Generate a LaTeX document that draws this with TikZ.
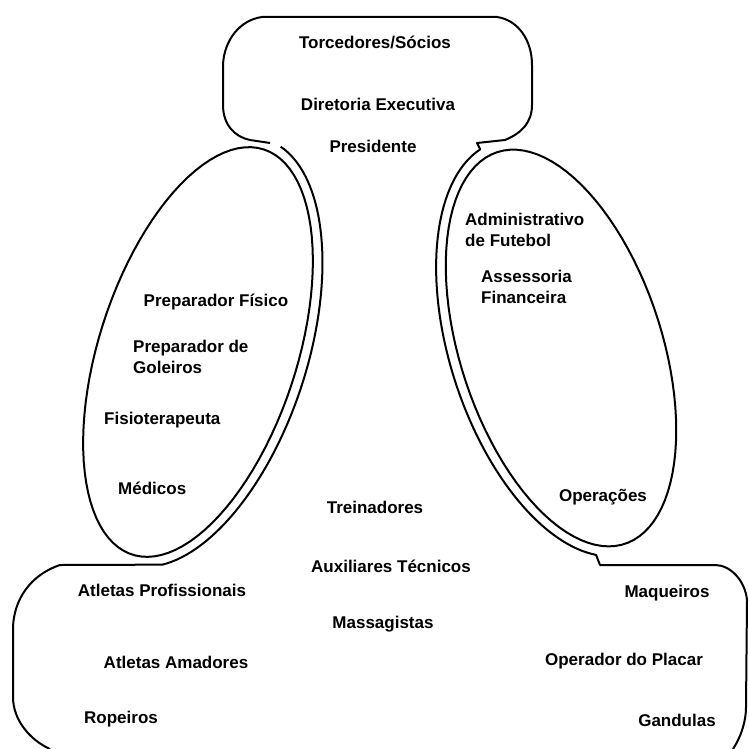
\documentclass[tikz,border=0pt]{standalone}
\usepackage{fontspec}
\setmainfont{Liberation Sans}
\usepackage{tikz}
\usetikzlibrary{positioning, calc}

\begin{document}
\begin{tikzpicture}[x=1pt, y=-1pt,
    outline/.style={draw=black, line width=2pt, line join=round},
    lbl/.style={font=\bfseries\fontsize{17}{21.5}\selectfont, inner sep=0pt},
    lbll/.style={lbl, anchor=west, align=left}]

    \useasboundingbox (0,0) rectangle (748,749);

    % top block and bottom block, joined by the outer lines of the two ellipses
    \draw[outline] plot[domain=8:163, samples=70, variable=\t]
        ({198 + 223*cos(\t)*0.309 + 109*sin(\t)*0.951}, {352 - 223*cos(\t)*0.951 + 109*sin(\t)*0.309})
        -- (60,565) .. controls (30,575) and (14,600) .. (13,627) -- (13,697)
        .. controls (13,720) and (30,740) .. (50,749);
    \draw[outline] (733,749) .. controls (742,735) and (746,720) .. (746,707) -- (747,600)
        .. controls (745,580) and (730,565) .. (715,565) -- (600,565)
        -- plot[domain=164:8, samples=70, variable=\t]
        ({561 - 216*cos(\t)*0.309 - 111*sin(\t)*0.951}, {348 - 216*cos(\t)*0.951 + 111*sin(\t)*0.309})
        -- (477,143) -- (505,140) .. controls (522,133) and (532,122) .. (532,105) -- (532,65)
        .. controls (532,40) and (518,20) .. (497,17) -- (262,17)
        .. controls (240,20) and (224,40) .. (223,65) -- (223,105)
        .. controls (223,125) and (235,137) .. (250,140) -- (270,143);

    % the two ellipses
    \draw[outline] plot[domain=0:360, samples=100, variable=\t]
        ({198 + 213*cos(\t)*0.309 + 99*sin(\t)*0.951}, {352 - 213*cos(\t)*0.951 + 99*sin(\t)*0.309}) -- cycle;
    \draw[outline] plot[domain=0:360, samples=100, variable=\t]
        ({561 - 206*cos(\t)*0.309 - 101*sin(\t)*0.951}, {348 - 206*cos(\t)*0.951 + 101*sin(\t)*0.309}) -- cycle;

    % top
    \node[lbl] (socios) at (375,42) {Torcedores/Sócios};
    \node[lbl] (diretoria) at (378,104) {Diretoria Executiva};
    \node[lbl] (presidente) at (373,146) {Presidente};

    % left ellipse
    \node[lbl] (prepfisico) at (216,302) {Preparador Físico};
    \node[lbll] (prepgoleiros) at (133,357) {Preparador de\\Goleiros};
    \node[lbll] (fisio) at (104,420) {Fisioterapeuta};
    \node[lbll] (medicos) at (118,488) {Médicos};

    % right ellipse
    \node[lbll] (admfutebol) at (465,230) {Administrativo\\de Futebol};
    \node[lbll] (assessoria) at (481,287) {Assessoria\\Financeira};
    \node[lbl] (operacoes) at (603,497) {Operações};

    % middle
    \node[lbl] (treinadores) at (375,507) {Treinadores};
    \node[lbl] (auxiliares) at (391,566) {Auxiliares Técnicos};
    \node[lbl] (massagistas) at (383,624) {Massagistas};

    % bottom
    \node[lbl] (profissionais) at (162,590) {Atletas Profissionais};
    \node[lbl] (amadores) at (176,662) {Atletas Amadores};
    \node[lbl] (ropeiros) at (121,719) {Ropeiros};
    \node[lbl] (maqueiros) at (667,593) {Maqueiros};
    \node[lbl] (placar) at (624,661) {Operador do Placar};
    \node[lbl] (gandulas) at (677,720) {Gandulas};

\end{tikzpicture}
\end{document}
